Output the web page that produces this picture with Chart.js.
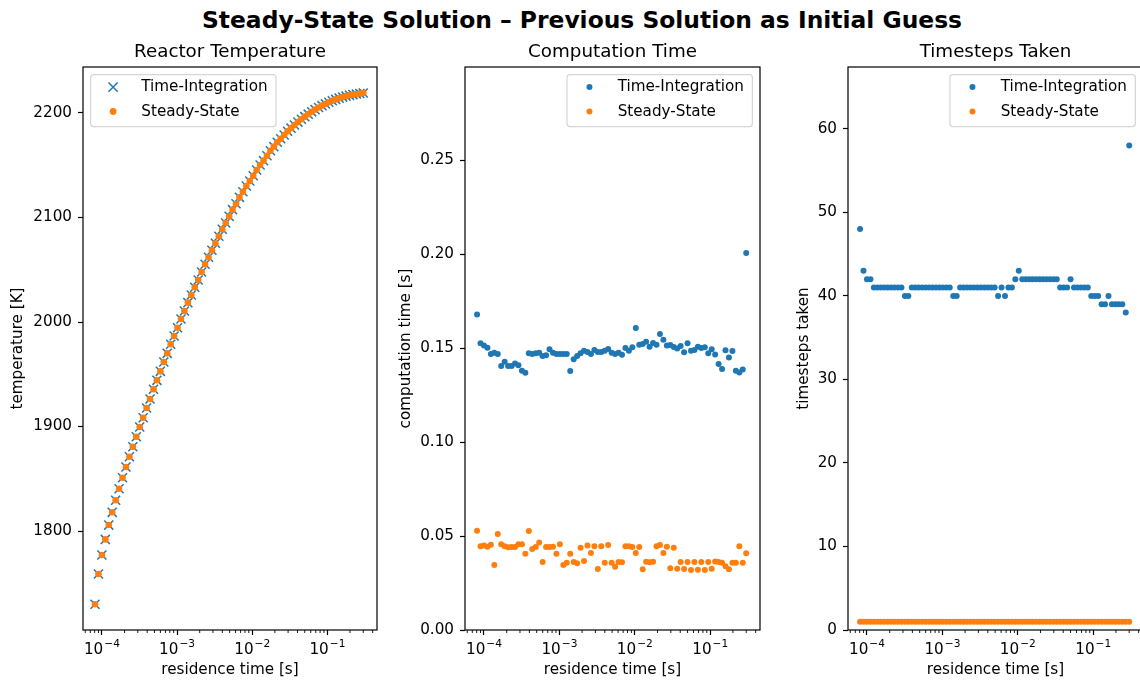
<!DOCTYPE html>
<html>
<head>
<meta charset="utf-8">
<script src="https://cdn.jsdelivr.net/npm/chart.js@4.4.1/dist/chart.umd.min.js"></script>
<style>
  html, body { margin: 0; padding: 0; background: #fff; overflow: hidden; }
  #fig { position: relative; width: 1140px; height: 682px; overflow: hidden; font-family: "DejaVu Sans", sans-serif; }
  #suptitle { position: absolute; left: 0; top: 9px; width: 1164px; text-align: center;
              font-weight: bold; font-size: 23.4px; line-height: 23px; color: #000; white-space: nowrap; }
  canvas { position: absolute; top: 0; }
</style>
</head>
<body>
<div id="fig">
  <div id="suptitle">Steady-State Solution – Previous Solution as Initial Guess</div>
  <canvas id="c1" width="400" height="682" style="left:0px"></canvas>
  <canvas id="c2" width="390" height="682" style="left:395px"></canvas>
  <canvas id="c3" width="380" height="682" style="left:790px"></canvas>
</div>
<script>
// ─── DATA ─────────────────────────────────────────────────────────────────────

// residence time [s], one entry per reactor solution
const residenceTime = [
  8.092e-5, 8.991e-5, 9.990e-5, 1.110e-4, 1.233e-4, 1.370e-4, 1.523e-4, 1.692e-4, 1.880e-4, 2.089e-4,
  2.321e-4, 2.579e-4, 2.865e-4, 3.183e-4, 3.537e-4, 3.930e-4, 4.367e-4, 4.852e-4, 5.391e-4, 5.990e-4,
  6.656e-4, 7.395e-4, 8.217e-4, 9.130e-4, 1.014e-3, 1.127e-3, 1.252e-3, 1.392e-3, 1.546e-3, 1.718e-3,
  1.909e-3, 2.121e-3, 2.357e-3, 2.618e-3, 2.909e-3, 3.233e-3, 3.592e-3, 3.991e-3, 4.434e-3, 4.927e-3,
  5.474e-3, 6.083e-3, 6.759e-3, 7.509e-3, 8.344e-3, 9.271e-3, 0.01030, 0.01145, 0.01272, 0.01413,
  0.01570, 0.01744, 0.01938, 0.02154, 0.02393, 0.02659, 0.02954, 0.03283, 0.03647, 0.04053,
  0.04503, 0.05003, 0.05559, 0.06177, 0.06863, 0.07626, 0.08473, 0.09414, 0.1046, 0.1162,
  0.1291, 0.1435, 0.1594, 0.1771, 0.1968, 0.2187, 0.243, 0.27, 0.3
];

// reactor temperature [K] (both methods land on the same values)
const tempTimeInt = [
  1729.9, 1758.9, 1777.0, 1792.0, 1805.7, 1817.9, 1829.4, 1840.5, 1851.0, 1861.2,
  1871.1, 1880.7, 1890.2, 1899.5, 1908.4, 1917.7, 1926.3, 1935.6, 1944.2, 1952.8,
  1961.7, 1970.0, 1978.7, 1986.6, 1994.5, 2002.9, 2010.5, 2018.5, 2025.8, 2033.2,
  2040.2, 2047.8, 2055.2, 2061.9, 2068.6, 2075.3, 2082.0, 2088.7, 2094.7, 2101.1,
  2107.5, 2113.2, 2119.3, 2124.7, 2130.1, 2134.9, 2140.0, 2145.4, 2150.2, 2154.4,
  2159.1, 2163.9, 2167.8, 2172.0, 2175.4, 2179.0, 2182.5, 2185.5, 2188.5, 2191.3,
  2194.0, 2196.5, 2198.9, 2201.1, 2203.2, 2205.2, 2207.0, 2208.7, 2210.3, 2211.7,
  2213.0, 2214.2, 2215.2, 2216.1, 2216.9, 2217.6, 2218.2, 2218.7, 2219.1
];
const tempSteady = tempTimeInt;

// computation time [s]
const compTimeInt = [
  0.1679, 0.1525, 0.1514, 0.1502, 0.1468, 0.1475, 0.1468, 0.1404, 0.1427, 0.1404,
  0.1404, 0.1418, 0.1408, 0.1379, 0.1369, 0.1472, 0.1468, 0.1472, 0.1475, 0.1457,
  0.1461, 0.1493, 0.1475, 0.1468, 0.1468, 0.1468, 0.1468, 0.1378, 0.1440, 0.1457,
  0.1472, 0.1486, 0.1479, 0.1468, 0.1489, 0.1479, 0.1479, 0.1486, 0.1495, 0.1475,
  0.1468, 0.1475, 0.1464, 0.1500, 0.1486, 0.1504, 0.1606, 0.1518, 0.1521, 0.1534,
  0.1507, 0.1527, 0.1518, 0.1574, 0.1544, 0.1514, 0.1516, 0.1505, 0.1498, 0.1511,
  0.1477, 0.1525, 0.1486, 0.1489, 0.1507, 0.1500, 0.1504, 0.1472, 0.1493, 0.1466,
  0.1415, 0.1388, 0.1488, 0.1449, 0.1484, 0.1379, 0.1370, 0.1386, 0.2005
];
const compSteady = [
  0.0528, 0.0445, 0.0449, 0.0443, 0.0454, 0.0346, 0.0511, 0.0456, 0.0445, 0.0440,
  0.0442, 0.0442, 0.0456, 0.0456, 0.0406, 0.0527, 0.0431, 0.0442, 0.0466, 0.0362,
  0.0442, 0.0442, 0.0443, 0.0406, 0.0456, 0.0346, 0.0358, 0.0406, 0.0362, 0.0355,
  0.0438, 0.0367, 0.0449, 0.0410, 0.0445, 0.0324, 0.0445, 0.0358, 0.0452, 0.0358,
  0.0337, 0.0362, 0.0360, 0.0445, 0.0445, 0.0442, 0.0410, 0.0442, 0.0323, 0.0363,
  0.0360, 0.0363, 0.0445, 0.0452, 0.0410, 0.0443, 0.0328, 0.0438, 0.0326, 0.0362,
  0.0324, 0.0362, 0.0319, 0.0362, 0.0321, 0.0362, 0.0319, 0.0362, 0.0326, 0.0365,
  0.0362, 0.0358, 0.0339, 0.0323, 0.0358, 0.0358, 0.0445, 0.0358, 0.0408
];

// timesteps taken
const stepsTimeInt = [
  48, 43, 42, 42, 41, 41, 41, 41, 41, 41,
  41, 41, 41, 40, 40, 41, 41, 41, 41, 41,
  41, 41, 41, 41, 41, 41, 41, 40, 40, 41,
  41, 41, 41, 41, 41, 41, 41, 41, 41, 41,
  40, 41, 40, 41, 41, 42, 43, 42, 42, 42,
  42, 42, 42, 42, 42, 42, 42, 42, 41, 41,
  41, 42, 41, 41, 41, 41, 41, 40, 40, 40,
  39, 39, 40, 39, 39, 39, 39, 38, 58
];
const stepsSteady = [
  1, 1, 1, 1, 1, 1, 1, 1, 1, 1,
  1, 1, 1, 1, 1, 1, 1, 1, 1, 1,
  1, 1, 1, 1, 1, 1, 1, 1, 1, 1,
  1, 1, 1, 1, 1, 1, 1, 1, 1, 1,
  1, 1, 1, 1, 1, 1, 1, 1, 1, 1,
  1, 1, 1, 1, 1, 1, 1, 1, 1, 1,
  1, 1, 1, 1, 1, 1, 1, 1, 1, 1,
  1, 1, 1, 1, 1, 1, 1, 1, 1
];

// tick labels
const tempTicks = [1800, 1900, 2000, 2100, 2200];
const compTicks = [0, 0.05, 0.10, 0.15, 0.20, 0.25];
const stepTicks = [0, 10, 20, 30, 40, 50, 60];
const xMajorExps = [-4, -3, -2, -1];

// ─── STYLE ────────────────────────────────────────────────────────────────────

const BLUE = '#1f77b4';
const ORANGE = '#ff7f0e';
const FAMILY = '"DejaVu Sans", sans-serif';
const TICK_FONT = { family: FAMILY, size: 15.2 };
const X_MIN = 5.6e-5, X_MAX = 0.457;

Chart.defaults.color = '#000';
Chart.defaults.font.family = FAMILY;

function pts(ys) {
  return residenceTime.map((t, i) => ({ x: t, y: ys[i] }));
}

// log axis ticks: 1..9 x 10^n inside the view, majors at the decades
function xTickList() {
  const out = [];
  for (let e = -5; e <= 0; e++) {
    for (let m = 1; m <= 9; m++) {
      const v = m * Math.pow(10, e);
      if (v >= X_MIN && v <= X_MAX) out.push({ value: v, major: m === 1 && xMajorExps.includes(e), exp: e });
    }
  }
  return out;
}

function xScale() {
  return {
    type: 'logarithmic',
    min: X_MIN,
    max: X_MAX,
    afterBuildTicks: s => { s.ticks = xTickList(); },
    afterFit: s => { s.height = 50; },
    border: { display: false },
    grid: {
      drawOnChartArea: false, drawTicks: true, tickLength: 5, tickWidth: 1.2,
      tickColor: c => (c.tick && c.tick.major) ? '#000' : 'rgba(0,0,0,0)'
    },
    // the 10^n labels are typeset by the axesDecor plugin
    ticks: { autoSkip: false, maxRotation: 0, minRotation: 0, padding: 4, font: TICK_FONT,
             callback: () => '' },
    title: { display: true, text: 'residence time [s]', font: TICK_FONT, color: '#000',
             padding: { top: 0, bottom: 1 } }
  };
}

function yScale(min, max, tickVals, fmt, label, width) {
  return {
    type: 'linear',
    min, max,
    afterBuildTicks: s => { s.ticks = tickVals.map(v => ({ value: v })); },
    afterFit: s => { s.width = width; },
    border: { display: false },
    grid: { drawOnChartArea: false, drawTicks: true, tickLength: 5, tickWidth: 1.2, tickColor: '#000' },
    ticks: { padding: 6, font: TICK_FONT, color: '#000', callback: v => fmt(v) },
    title: { display: true, text: label, font: TICK_FONT, color: '#000', padding: { top: 1, bottom: 0 } }
  };
}

// ─── PLUGINS ──────────────────────────────────────────────────────────────────

// full box spines, short minor ticks, 10^n labels and the subplot title
const axesDecor = {
  id: 'axesDecor',
  afterDraw(chart, args, opts) {
    const { ctx, chartArea: a } = chart;
    const xs = chart.scales.x;
    ctx.save();
    ctx.strokeStyle = '#000';
    ctx.lineWidth = 0.9;
    xs.ticks.forEach(t => {
      if (t.major) return;
      const px = xs.getPixelForValue(t.value);
      ctx.beginPath();
      ctx.moveTo(px, a.bottom);
      ctx.lineTo(px, a.bottom + 3);
      ctx.stroke();
    });
    ctx.lineWidth = 1.2;
    ctx.strokeRect(a.left, a.top, a.right - a.left, a.bottom - a.top);

    // mathtext-like "10" with a raised, smaller exponent
    ctx.fillStyle = '#000';
    ctx.textBaseline = 'alphabetic';
    ctx.textAlign = 'left';
    const big = '15.2px ' + FAMILY, small = '10.6px ' + FAMILY;
    xs.ticks.forEach(t => {
      if (!t.major) return;
      const expText = '\u2212' + Math.abs(t.exp);
      ctx.font = big;
      const wBase = ctx.measureText('10').width;
      ctx.font = small;
      const wExp = ctx.measureText(expText).width;
      const x0 = xs.getPixelForValue(t.value) - (wBase + wExp + 1) / 2;
      ctx.font = big;
      ctx.fillText('10', x0, a.bottom + 24);
      ctx.font = small;
      ctx.fillText(expText, x0 + wBase + 1, a.bottom + 16.8);
    });

    ctx.font = '18.3px ' + FAMILY;
    ctx.textAlign = 'center';
    ctx.fillText(opts.text, (a.left + a.right) / 2, a.top - 10);
    ctx.restore();
  }
};

// matplotlib-like legend box drawn inside the axes
const boxLegend = {
  id: 'boxLegend',
  afterDraw(chart, args, opts) {
    const { ctx, chartArea: a } = chart;
    ctx.save();
    ctx.font = '15.2px ' + FAMILY;
    const textW = Math.max(...opts.items.map(it => ctx.measureText(it.text).width));
    const w = 50.7 + textW + 8.4, h = 52, pad = 7.6;
    const x0 = opts.side === 'left' ? a.left + pad : a.right - pad - w;
    const y0 = a.top + pad;
    ctx.beginPath();
    ctx.roundRect(x0, y0, w, h, 3);
    ctx.fillStyle = 'rgba(255,255,255,0.8)';
    ctx.fill();
    ctx.strokeStyle = 'rgba(204,204,204,0.8)';
    ctx.lineWidth = 1.2;
    ctx.stroke();
    opts.items.forEach((it, k) => {
      const cy = y0 + 12.5 + k * 24.4;
      const mx = x0 + 22.5;
      if (it.style === 'x') {
        const r = 4.6;
        ctx.strokeStyle = it.color;
        ctx.lineWidth = 1.5;
        ctx.beginPath();
        ctx.moveTo(mx - r, cy - r); ctx.lineTo(mx + r, cy + r);
        ctx.moveTo(mx - r, cy + r); ctx.lineTo(mx + r, cy - r);
        ctx.stroke();
      } else {
        ctx.fillStyle = it.color;
        ctx.beginPath();
        ctx.arc(mx, cy, it.r, 0, Math.PI * 2);
        ctx.fill();
      }
      ctx.fillStyle = '#000';
      ctx.textAlign = 'left';
      ctx.textBaseline = 'alphabetic';
      ctx.fillText(it.text, x0 + 50.7, cy + 4);
    });
    ctx.restore();
  }
};

// ─── CHARTS ───────────────────────────────────────────────────────────────────

function makeChart(id, datasets, padding, y, title, legend) {
  return new Chart(document.getElementById(id), {
    type: 'scatter',
    data: { datasets },
    options: {
      responsive: false,
      animation: false,
      events: [],
      layout: { padding },
      scales: { x: xScale(), y },
      plugins: {
        legend: { display: false },
        tooltip: { enabled: false },
        axesDecor: { text: title },
        boxLegend: legend
      }
    },
    plugins: [axesDecor, boxLegend]
  });
}

makeChart('c1', [
  { label: 'Time-Integration', data: pts(tempTimeInt), order: 2, pointStyle: 'crossRot',
    pointRadius: 6.4, borderColor: BLUE, backgroundColor: BLUE, pointBorderWidth: 1.5 },
  { label: 'Steady-State', data: pts(tempSteady), order: 1, pointStyle: 'circle',
    pointRadius: 3.3, borderWidth: 0, pointBorderWidth: 0, backgroundColor: ORANGE, borderColor: ORANGE }
], { left: 8, right: 23, top: 67, bottom: 2 },
  yScale(1705.3, 2244, tempTicks, v => String(v), 'temperature [K]', 75),
  'Reactor Temperature',
  { side: 'left', items: [
    { text: 'Time-Integration', style: 'x', color: BLUE },
    { text: 'Steady-State', style: 'o', color: ORANGE, r: 3.4 }
  ] });

makeChart('c2', [
  { label: 'Time-Integration', data: pts(compTimeInt), order: 2, pointStyle: 'circle',
    pointRadius: 3.0, pointBorderWidth: 0, backgroundColor: BLUE, borderColor: BLUE },
  { label: 'Steady-State', data: pts(compSteady), order: 1, pointStyle: 'circle',
    pointRadius: 3.0, pointBorderWidth: 0, backgroundColor: ORANGE, borderColor: ORANGE }
], { left: 1, right: 25, top: 67, bottom: 2 },
  yScale(0, 0.2995, compTicks, v => v.toFixed(2), 'computation time [s]', 69),
  'Computation Time',
  { side: 'right', items: [
    { text: 'Time-Integration', style: 'o', color: BLUE, r: 3.0 },
    { text: 'Steady-State', style: 'o', color: ORANGE, r: 3.0 }
  ] });

makeChart('c3', [
  { label: 'Time-Integration', data: pts(stepsTimeInt), order: 2, pointStyle: 'circle',
    pointRadius: 3.0, pointBorderWidth: 0, backgroundColor: BLUE, borderColor: BLUE },
  { label: 'Steady-State', data: pts(stepsSteady), order: 1, pointStyle: 'circle',
    pointRadius: 3.0, pointBorderWidth: 0, backgroundColor: ORANGE, borderColor: ORANGE }
], { left: 4, right: 27, top: 67, bottom: 2 },
  yScale(0, 67.4, stepTicks, v => String(v), 'timesteps taken', 54),
  'Timesteps Taken',
  { side: 'right', items: [
    { text: 'Time-Integration', style: 'o', color: BLUE, r: 3.0 },
    { text: 'Steady-State', style: 'o', color: ORANGE, r: 3.0 }
  ] });
</script>
</body>
</html>
